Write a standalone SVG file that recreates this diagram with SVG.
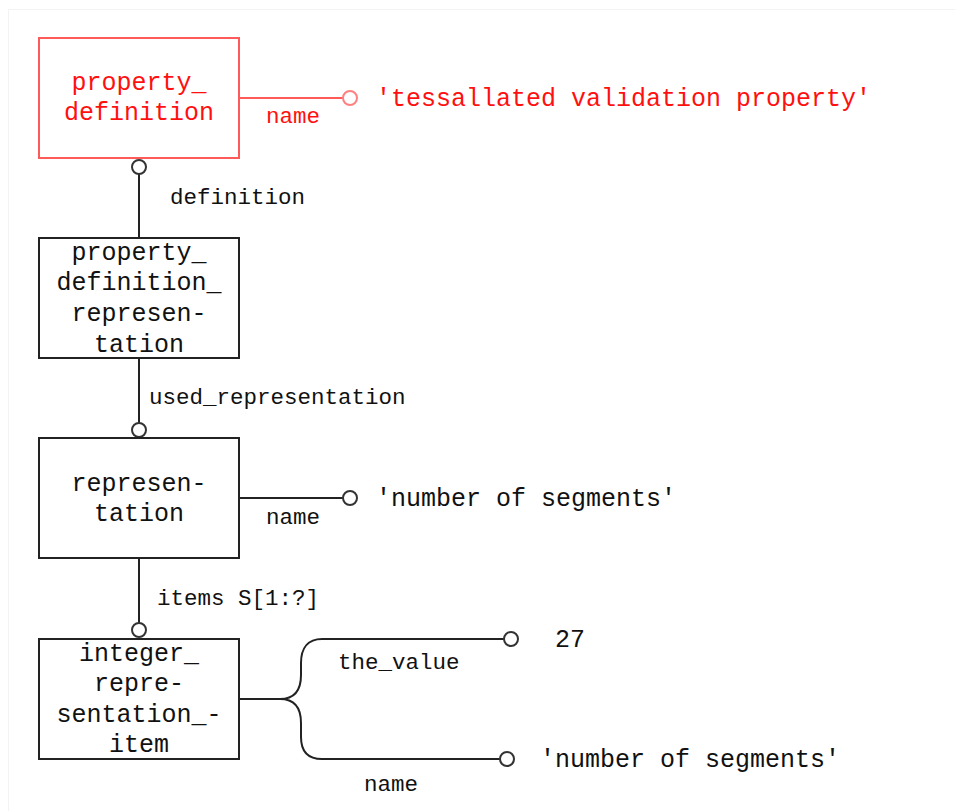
<svg xmlns="http://www.w3.org/2000/svg" width="955" height="811" viewBox="0 0 955 811">
  <style>
    .box { fill: #ffffff; stroke: #222222; stroke-width: 2; }
    .box-red { fill: #ffffff; stroke: #ff5a5a; stroke-width: 2; }
    .line { fill: none; stroke: #222222; stroke-width: 2; }
    .line-red { fill: none; stroke: #ff5a5a; stroke-width: 2; }
    .end { fill: #ffffff; stroke: #333333; stroke-width: 2; }
    .end-red { fill: #ffffff; stroke: #ff8080; stroke-width: 2; }
    .ent { font-family: "Liberation Mono", "Courier New", monospace; font-size: 25px; fill: #111111; text-anchor: middle; }
    .ent-red { fill: #ff1010; }
    .lbl { font-family: "Liberation Mono", "Courier New", monospace; font-size: 22.5px; fill: #111111; }
    .val { font-family: "Liberation Mono", "Courier New", monospace; font-size: 25px; fill: #111111; }
    .red { fill: #ff1010; }
  </style>

  <!-- page frame -->
  <rect x="8.5" y="9.5" width="960" height="820" fill="#ffffff" stroke="#f3f3f3" stroke-width="1"/>

  <!-- connectors -->
  <g id="connectors">
    <!-- property_definition.name -->
    <line class="line-red" x1="239" y1="98" x2="343" y2="98"/>
    <circle class="end-red" cx="350" cy="98" r="7"/>
    <text class="lbl red" x="266" y="123">name</text>
    <text class="val red" x="376" y="106">'tessallated validation property'</text>

    <!-- property_definition_representation.definition -->
    <line class="line" x1="139" y1="174" x2="139" y2="238"/>
    <circle class="end" cx="139" cy="167" r="7"/>
    <text class="lbl" x="170" y="204">definition</text>

    <!-- property_definition_representation.used_representation -->
    <line class="line" x1="139" y1="358" x2="139" y2="423"/>
    <circle class="end" cx="139" cy="430" r="7"/>
    <text class="lbl" x="149" y="404">used_representation</text>

    <!-- representation.name -->
    <line class="line" x1="239" y1="498" x2="343" y2="498"/>
    <circle class="end" cx="350" cy="498" r="7"/>
    <text class="lbl" x="266" y="524">name</text>
    <text class="val" x="376" y="506">'number of segments'</text>

    <!-- representation.items -->
    <line class="line" x1="139" y1="558" x2="139" y2="623"/>
    <circle class="end" cx="139" cy="630" r="7"/>
    <text class="lbl" x="157" y="605">items S[1:?]</text>

    <!-- integer_representation_item attributes (fork) -->
    <path class="line" d="M239,699 H280 C295,699 301,690 301,675 V663 C301,648 308,639 322,639 H504"/>
    <path class="line" d="M280,699 C295,699 301,708 301,723 V737 C301,752 308,759 322,759 H500"/>
    <circle class="end" cx="511" cy="639" r="7"/>
    <circle class="end" cx="507" cy="759" r="7"/>
    <text class="lbl" x="338" y="669">the_value</text>
    <text class="val" x="555" y="647">27</text>
    <text class="lbl" x="364" y="791">name</text>
    <text class="val" x="540" y="767">'number of segments'</text>
  </g>

  <g id="property_definition">
    <rect class="box-red" x="39" y="38" width="200" height="120"/>
    <text class="ent ent-red" x="139" y="90">property_</text>
    <text class="ent ent-red" x="139" y="120">definition</text>
  </g>

  <g id="property_definition_representation">
    <rect class="box" x="39" y="238" width="200" height="120"/>
    <text class="ent" x="139" y="260">property_</text>
    <text class="ent" x="139" y="290">definition_</text>
    <text class="ent" x="139" y="321">represen-</text>
    <text class="ent" x="139" y="352">tation</text>
  </g>

  <g id="representation">
    <rect class="box" x="39" y="438" width="200" height="120"/>
    <text class="ent" x="139" y="491">represen-</text>
    <text class="ent" x="139" y="521">tation</text>
  </g>

  <g id="integer_representation_item">
    <rect class="box" x="39" y="639" width="200" height="120"/>
    <text class="ent" x="139" y="661">integer_</text>
    <text class="ent" x="139" y="691">repre-</text>
    <text class="ent" x="139" y="722">sentation_-</text>
    <text class="ent" x="139" y="752">item</text>
  </g>
</svg>
